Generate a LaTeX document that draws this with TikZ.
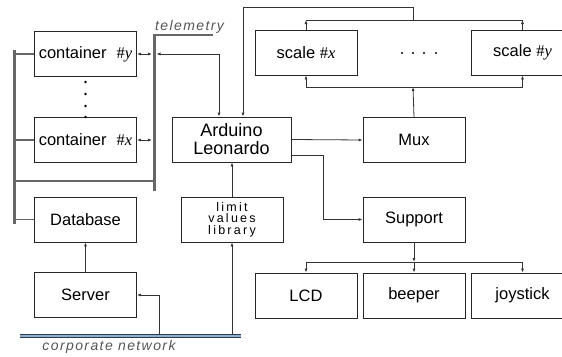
\documentclass[tikz,border=0pt]{standalone}
\usepackage{fontspec}
\setmainfont{Liberation Sans}
\newfontfamily\tnr{Liberation Serif}
\usetikzlibrary{arrows.meta}
\definecolor{busgray}{HTML}{666666}
\definecolor{netdark}{HTML}{2B3A55}
\definecolor{netlight}{HTML}{8FAFD0}
\definecolor{lblgray}{HTML}{555555}
\newcommand{\idx}[1]{{\tnr\#\textit{#1}}}
\begin{document}
\begin{tikzpicture}[x=1pt,y=-1pt,
    >={Latex[length=4pt,width=3pt]},
    box/.style={draw=black!85,line width=0.8pt,minimum width=102pt,minimum height=45pt,inner sep=0pt,
                font=\fontsize{16.5}{18}\selectfont},
    bus/.style={draw=busgray,line width=3pt},
    tap/.style={draw=busgray,line width=1.1pt},
    wire/.style={draw=black!80,line width=0.8pt},
    net/.style={draw=netdark,double=netlight,double distance=1.4pt,line width=0.9pt},
    lbl/.style={text=lblgray,inner sep=0pt,
                font=\fontsize{14}{16}\selectfont\itshape\addfontfeatures{LetterSpace=10}}]
  \useasboundingbox (0,0) rectangle (562,356);
  \clip (0,0) rectangle (562,356);

  \node[box] (cy) at (85.5,54) {container\hspace{10pt}\idx{y}};
  \node[box] (cx) at (85.5,140) {container\hspace{10pt}\idx{x}};
  \node[box] (db) at (85.5,219.5) {Database};
  \node[box] (srv) at (85.5,295) {Server};
  \node[box,minimum width=119pt,align=center,font=\fontsize{18}{18}\selectfont] (ard) at (231.5,139.5) {Arduino\\Leonardo};
  \node[box,align=center,font=\fontsize{12.5}{11.5}\selectfont\addfontfeatures{LetterSpace=18}] (lim) at (232,219.5) {limit\\values\\library};
  \node[box] (sx) at (306,52.5) {scale \idx{x}};
  \node[box] (sy) at (522.5,52.5) {scale \idx{y}};
  \node[box] (mux) at (414,140) {Mux};
  \node[box] (sup) at (414,219.5) {Support};
  \node[box] (lcd) at (306,295.5) {LCD};
  \node[box] (bp) at (414,295.5) {beeper};
  \node[box] (joy) at (522.5,295.5) {joystick};

  \foreach \y in {82,94,106,117}
    \fill (85.5,\y) circle[radius=1.4];
  \foreach \x in {402,413,424,436}
    \fill (\x,53) circle[radius=1.1];

  \coordinate (lbus) at (14,224);
  \coordinate (rbus) at (154,191);
  \draw[bus] (14,50) -- (lbus);
  \draw[bus] (154,34) -- (rbus);
  \draw[bus,line width=2pt] (152.5,34.5) -- (213,34.5);
  \draw[tap] (cy.west -| lbus) -- (cy.west);
  \draw[tap] (cx.west -| lbus) -- (cx.west);
  \draw[tap] (db.west -| lbus) -- (db.west);
  \draw[tap] (14,181) -- (154,181);
  \node[lbl,anchor=base west] (tel) at (155,30) {telemetry};

  \draw[wire,<->,shorten >=2pt] (cy.east) -- (cy.east -| rbus);
  \draw[wire,<->,shorten >=2pt] (cx.east) -- (cx.east -| rbus);
  \draw[wire,<->,shorten <=2.5pt] (cy.east -| rbus) -| ([xshift=-12.5pt]ard.north);

  \coordinate (tb) at (413,20);
  \coordinate (top) at (413,7);
  \draw[wire,->] (sx.north) -- (sx.north |- tb);
  \draw[wire,->] (sy.north) -- (sy.north |- tb);
  \draw[wire] (sx.north |- tb) -- (sy.north |- tb);
  \draw[wire,->] (tb) -- (top) -| ([xshift=11.5pt]ard.north);

  \coordinate (mb) at (413,87);
  \draw[wire,->] (mux.north) -- (mb);
  \draw[wire] (mb -| sx.south) -- (mb -| sy.south);
  \draw[wire,->] (mb -| sx.south) -- (sx.south);
  \draw[wire,->] (mb -| sy.south) -- (sy.south);

  \draw[wire,->] (ard.east) -- (mux.west);
  \draw[wire,->] ([yshift=-15.5pt]ard.east) -- ++(32,0) |- (sup.west);

  \coordinate (sb) at (414,262);
  \draw[wire,->] (sup.south) -- (sb);
  \draw[wire] (lcd.north |- sb) -- (joy.north |- sb);
  \draw[wire,->] (lcd.north |- sb) -- (lcd.north);
  \draw[wire,->] (bp.north |- sb) -- (bp.north);
  \draw[wire,->] (joy.north |- sb) -- (joy.north);

  \draw[wire,->] (srv.north) -- (db.south);
  \draw[wire,->] (lim.north) -- (ard.south -| lim.north);

  \coordinate (nl) at (20,336);
  \coordinate (nr) at (241,336);
  \draw[wire,->] (nr -| lim.south) -- (lim.south);
  \draw[wire,->] ([xshift=139pt]nl) |- (srv.east);
  \draw[net] (nl) -- (nr);
  \node[lbl] (corp) at (109,347) {corporate network};
\end{tikzpicture}
\end{document}
